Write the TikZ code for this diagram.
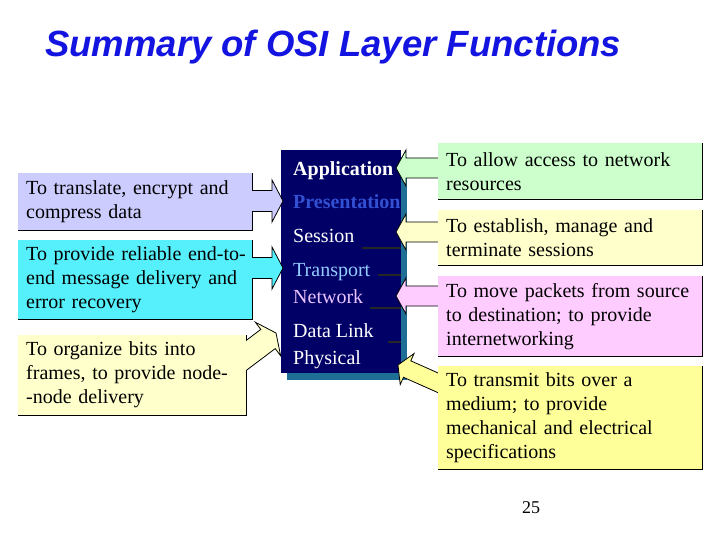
\documentclass[tikz,border=0pt]{standalone}
\usepackage{fontspec}
\setmainfont{Liberation Serif}
\newfontfamily\titlefamily{Liberation Sans}
\usetikzlibrary{calc}
\pgfdeclarelayer{bg}
\pgfdeclarelayer{arr}
\pgfdeclarelayer{refill}
\pgfsetlayers{bg,arr,refill,main}
\definecolor{navybox}{RGB}{0,0,102}
\definecolor{navyshadow}{RGB}{30,110,150}
\definecolor{titleblue}{RGB}{20,20,225}
\definecolor{lav}{RGB}{204,204,255}
\definecolor{cyanb}{RGB}{85,240,252}
\definecolor{paley}{RGB}{255,255,204}
\definecolor{paleg}{RGB}{204,255,204}
\definecolor{palep}{RGB}{255,204,255}
\definecolor{yellowb}{RGB}{255,255,153}
\definecolor{presblue}{RGB}{50,80,210}
\definecolor{transblue}{RGB}{150,205,255}
\definecolor{netpink}{RGB}{235,195,255}
\newcommand\bodysize{\fontsize{20}{24}\selectfont}
% #1 colour, #2 tip coordinate, #3 angle, #4 length, #5 head half width, #6 shaft half width, #7 head length
\newcommand\blockarr[7]{%
  \begin{scope}[shift={(#2)},rotate=#3,x=1pt,y=1pt]
    \filldraw[arrowline,fill=#1] (0,0) -- (-#7,#5) -- (-#7,#6) -- (-#4,#6) -- (-#4,-#6) -- (-#7,-#6) -- (-#7,-#5) -- cycle;
  \end{scope}}
\tikzset{
  arrowline/.style={draw=black,line width=0.8pt,line join=miter},
  infobox/.style={anchor=north west,inner xsep=8pt,inner ysep=0pt,align=left,font=\bodysize},
  boxedge/.style={draw=black,line width=0.8pt},
  layertext/.style={anchor=base west,inner sep=0pt,font=\bodysize},
  sepline/.style={draw=black!85,line width=1.2pt}
}
\begin{document}
\begin{tikzpicture}[x=1pt,y=-1pt]
\useasboundingbox (0,0) rectangle (720,540);

% title and page number
\node[anchor=base west,inner sep=0pt,text=titleblue,font=\titlefamily\bfseries\itshape\fontsize{36.5}{40}\selectfont] (title) at (45,57) {Summary of OSI Layer Functions};
\node[anchor=base,inner sep=0pt,font=\fontsize{18}{20}\selectfont] (page) at (531,513) {25};

% description boxes (text)
\node[infobox,text width=218pt,minimum height=57pt] (l1) at (18,173) {\mbox{To translate, encrypt and}\\compress data};
\node[infobox,text width=218pt,minimum height=79pt] (l2) at (18,240) {\mbox{To provide reliable end-to-}\\\mbox{end message delivery and}\\error recovery};
\node[infobox,text width=212pt,minimum height=80pt] (l3) at (18,335) {\mbox{To organize bits into}\\\mbox{frames, to provide node-}\\\mbox{-node delivery}};
\node[infobox,text width=248pt,minimum height=56pt] (r1) at (438,143) {\mbox{To allow access to network}\\resources};
\node[infobox,text width=248pt,minimum height=55pt] (r2) at (438,210) {\mbox{To establish, manage and}\\terminate sessions};
\node[infobox,text width=248pt,minimum height=80pt] (r3) at (438,276) {\mbox{To move packets from source}\\\mbox{to destination; to provide}\\internetworking};
\node[infobox,text width=248pt,minimum height=103pt] (r4) at (438,366) {\mbox{To transmit bits over a}\\\mbox{medium; to provide}\\\mbox{mechanical and electrical}\\specifications};

\begin{pgfonlayer}{bg}
  \fill[white] (0,0) rectangle (720,540);
  \fill[navyshadow] (287,157) rectangle (407,380);
  \node[anchor=north west,fill=navybox,minimum width=120pt,minimum height=223pt,inner sep=0pt] (osi) at (281,150) {};
  \draw[sepline] (362,248) -- (osi.east |- 0,248);
  \draw[sepline] (378,275) -- (osi.east |- 0,275);
  \draw[sepline] (370,308) -- (osi.east |- 0,308);
  \draw[sepline] (388,342) -- (osi.east |- 0,342);
  \foreach \b/\c in {l1/lav,l2/cyanb,l3/paley,r1/paleg,r2/paley,r3/palep,r4/yellowb}
    \draw[boxedge,fill=\c] (\b.north west) rectangle (\b.south east);
\end{pgfonlayer}

% layer names inside the stack
\node[layertext,text=white,font=\bodysize\bfseries] (app) at (293,176) {Application};
\node[layertext,text=presblue,font=\bodysize\bfseries] (pres) at (293,209) {Presentation};
\node[layertext,text=white] (sess) at (293,243) {Session};
\node[layertext,text=transblue] (trans) at (293,276) {Transport};
\node[layertext,text=netpink] (net) at (293,303) {Network};
\node[layertext,text=white] (dl) at (293,337) {Data Link};
\node[layertext,text=white] (phy) at (293,364) {Physical};

% arrow tips
\coordinate (tl1) at (283,201);
\coordinate (tl2) at (283,268);
\coordinate (tl3) at (276,333);
\coordinate (tr1) at (396,168);
\coordinate (tr2) at (396,232);
\coordinate (tr3) at (396,296);
\coordinate (tr4) at (398,365);

\begin{pgfonlayer}{arr}
  \blockarr{lav}{tl1}{0}{36}{21}{10.5}{11}
  \blockarr{cyanb}{tl2}{0}{36}{21}{10.5}{11}
  \blockarr{paley}{tl3}{37}{52}{21}{12}{10}
  \blockarr{paleg}{tr1}{180}{46}{18}{10}{10}
  \blockarr{paley}{tr2}{180}{46}{18}{10}{10}
  \blockarr{palep}{tr3}{180}{46}{18}{10}{10}
  \blockarr{yellowb}{tr4}{156}{55}{17}{9}{10}
\end{pgfonlayer}

\begin{pgfonlayer}{refill}
  \foreach \b/\c in {l1/lav,l2/cyanb,l3/paley,r1/paleg,r2/paley,r3/palep,r4/yellowb}
    \fill[\c] ([shift={(0.4,0.4)}]\b.north west) rectangle ([shift={(-0.4,-0.4)}]\b.south east);
\end{pgfonlayer}
\end{tikzpicture}
\end{document}
